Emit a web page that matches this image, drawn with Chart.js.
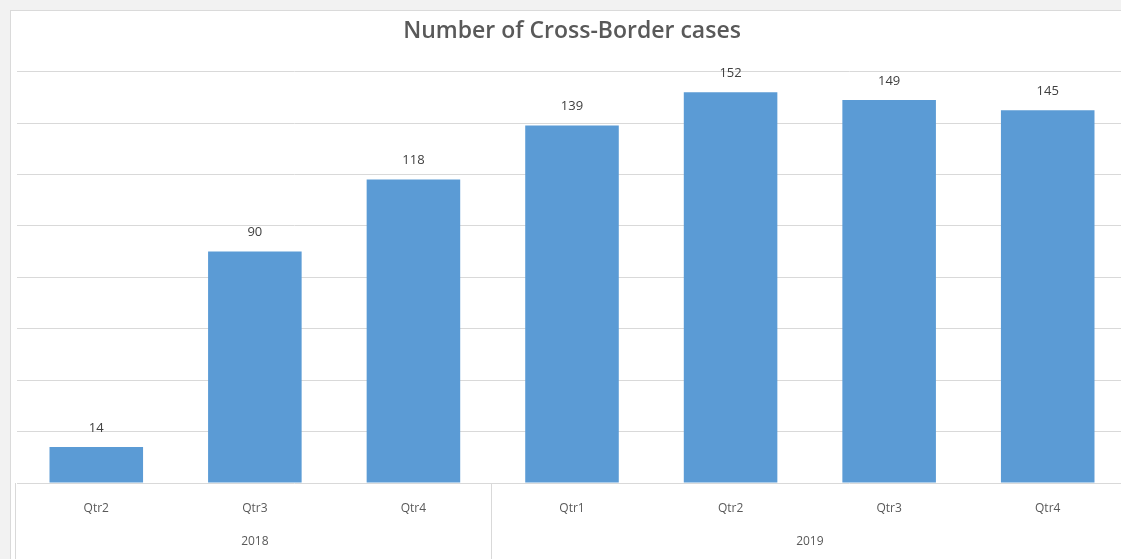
<!DOCTYPE html>
<html><head><meta charset="utf-8">
<script src="https://cdn.jsdelivr.net/npm/chart.js@4.4.1/dist/chart.umd.min.js"></script>
<style>
html,body{margin:0;padding:0;width:1121px;height:559px;overflow:hidden;background:#f2f2f2;}
#frame{position:absolute;left:10px;top:10px;width:1120px;height:560px;background:#fff;border-left:1px solid #dadada;border-top:1px solid #dadada;}
#wrap{position:absolute;left:0;top:0;width:1127px;height:559px;}
</style></head><body>
<div id="frame"></div>
<div id="wrap"><canvas id="c"></canvas></div>
<script>
const quarters = ['Qtr2','Qtr3','Qtr4','Qtr1','Qtr2','Qtr3','Qtr4'];
const years = ['2018','2019'];
const quartersPerYear = [3,4];
const cases = [14,90,118,139,152,149,145];
const yMin = 0, yMax = 160, yStep = 20;

const FONT = "'Open Sans', 'Liberation Sans', sans-serif";

const valueLabels = {
  id:'valueLabels',
  afterDatasetsDraw(chart){
    const ctx = chart.ctx;
    const meta = chart.getDatasetMeta(0);
    ctx.save();
    ctx.fillStyle = '#404040';
    ctx.font = "13px " + FONT;
    ctx.textAlign = 'center';
    ctx.textBaseline = 'middle';
    meta.data.forEach((bar,i)=>{
      ctx.fillText(String(chart.data.datasets[0].data[i]), bar.x, bar.y - 19);
    });
    ctx.restore();
  }
};

const yearAxis = {
  id:'yearAxis',
  afterDraw(chart){
    const ctx = chart.ctx;
    const x = chart.scales.x;
    const area = chart.chartArea;
    const half = (x.getPixelForValue(1) - x.getPixelForValue(0)) / 2;
    ctx.save();
    ctx.strokeStyle = '#d9d9d9';
    ctx.lineWidth = 1;
    ctx.fillStyle = '#595959';
    ctx.font = "12px " + FONT;
    ctx.textAlign = 'center';
    ctx.textBaseline = 'middle';
    let idx = 0;
    years.forEach((yr,g)=>{
      const first = idx, last = idx + quartersPerYear[g] - 1;
      const bx = Math.round(x.getPixelForValue(first) - half) - 1.5;
      ctx.beginPath();
      ctx.moveTo(bx, area.bottom);
      ctx.lineTo(bx, chart.height);
      ctx.stroke();
      const cx = (x.getPixelForValue(first) + x.getPixelForValue(last)) / 2;
      ctx.fillText(yr, cx, 542);
      idx = last + 1;
    });
    ctx.restore();
  }
};

new Chart(document.getElementById('c'), {
  type:'bar',
  data:{
    labels: quarters,
    datasets:[{
      data: cases,
      backgroundColor:'#5B9BD5',
      borderWidth:0,
      barPercentage:0.59,
      categoryPercentage:1.0
    }]
  },
  options:{
    responsive:true,
    maintainAspectRatio:false,
    devicePixelRatio:1,
    animation:false,
    layout:{padding:{left:17,right:0,top:0,bottom:0}},
    plugins:{
      legend:{display:false},
      tooltip:{enabled:false},
      title:{
        display:true,
        text:'Number of Cross-Border cases',
        color:'#595959',
        font:{family:FONT,size:23,weight:'600'},
        padding:{top:18,bottom:26}
      }
    },
    scales:{
      x:{
        grid:{display:false,drawTicks:false},
        border:{display:false},
        ticks:{color:'#595959',font:{family:FONT,size:12},padding:18,maxRotation:0,autoSkip:false},
        afterFit(s){ s.height = 76; }
      },
      y:{
        min:yMin,max:yMax,
        ticks:{display:false,stepSize:yStep},
        grid:{color:'#d9d9d9',drawTicks:false},
        border:{display:false},
        afterFit(s){ s.width = 0; }
      }
    }
  },
  plugins:[valueLabels, yearAxis]
});
</script>
</body></html>
